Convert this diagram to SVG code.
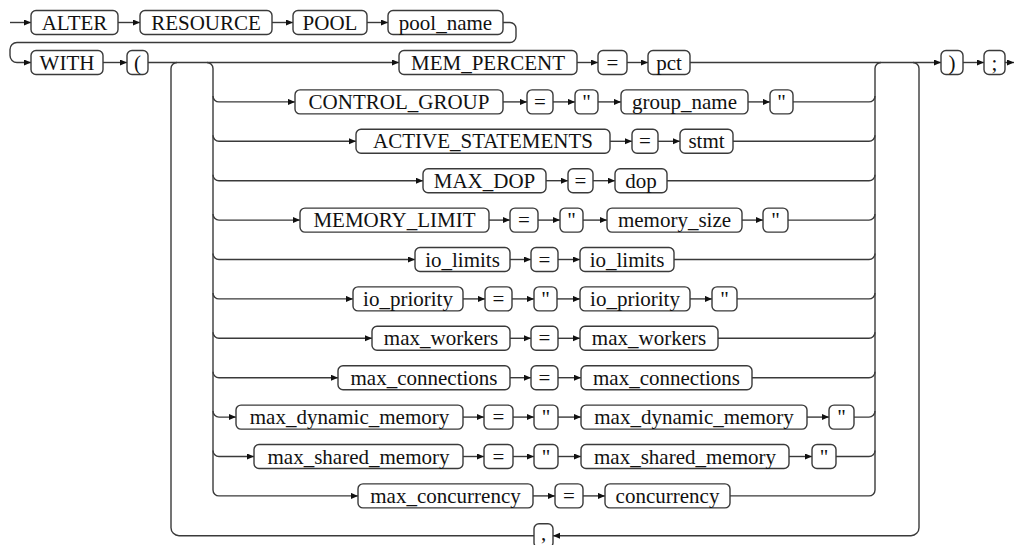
<svg xmlns="http://www.w3.org/2000/svg" width="1014" height="545" viewBox="0 0 1014 545">
<defs>
<marker id="ar" markerUnits="userSpaceOnUse" markerWidth="8" markerHeight="8" refX="7" refY="3" orient="auto"><path d="M0,0 L7,3 L0,6 z" fill="#111"/></marker>
</defs>
<rect width="1014" height="545" fill="#fff"/>
<g id="connectors" fill="none" stroke="#3a3a3a" stroke-width="1.4">
<path marker-end="url(#ar)" d="M10,22.5 L31,22.5"/>
<path marker-end="url(#ar)" d="M118,22.5 L140,22.5"/>
<path marker-end="url(#ar)" d="M272,22.5 L293,22.5"/>
<path marker-end="url(#ar)" d="M367,22.5 L388,22.5"/>
<path marker-end="url(#ar)" d="M503,22.5 L510,22.5 A6,6 0 0 1 516,28.5 L516,36.5 A6,6 0 0 1 510,42.5 L17,42.5 A7,7 0 0 0 10,49.5 L10,55.5 A7,7 0 0 0 17,62.5 L31,62.5"/>
<path marker-end="url(#ar)" d="M103,62.5 L127,62.5"/>
<path marker-end="url(#ar)" d="M148,62.5 L399,62.5"/>
<path marker-end="url(#ar)" d="M577,62.5 L598,62.5"/>
<path marker-end="url(#ar)" d="M627,62.5 L648,62.5"/>
<path marker-end="url(#ar)" d="M690,62.5 L941,62.5"/>
<path marker-end="url(#ar)" d="M963,62.5 L984,62.5"/>
<path marker-end="url(#ar)" d="M1005,62.5 L1014,62.5"/>
<path d="M207,62.5 A6,6 0 0 1 213,68.5 L213,489.9"/>
<path d="M875,489.9 L875,68.5 A6,6 0 0 1 881,62.5"/>
<path marker-end="url(#ar)" d="M913,62.5 A6,6 0 0 1 919,68.5 L919,527.7 A8,8 0 0 1 911,535.7 L553,535.7"/>
<path d="M534,535.7 L179,535.7 A8,8 0 0 1 171,527.7 L171,68.5 A6,6 0 0 1 177,62.5"/>
<path marker-end="url(#ar)" d="M213,95.9 A6,6 0 0 0 219,101.9 L295,101.9"/>
<path marker-end="url(#ar)" d="M503,101.9 L527,101.9"/>
<path marker-end="url(#ar)" d="M553,101.9 L575,101.9"/>
<path marker-end="url(#ar)" d="M598,101.9 L621,101.9"/>
<path marker-end="url(#ar)" d="M748,101.9 L770,101.9"/>
<path d="M793,101.9 L869,101.9 A6,6 0 0 0 875,95.9"/>
<path marker-end="url(#ar)" d="M213,135.3 A6,6 0 0 0 219,141.3 L356,141.3"/>
<path marker-end="url(#ar)" d="M610,141.3 L632,141.3"/>
<path marker-end="url(#ar)" d="M658,141.3 L680,141.3"/>
<path d="M733,141.3 L869,141.3 A6,6 0 0 0 875,135.3"/>
<path marker-end="url(#ar)" d="M213,174.7 A6,6 0 0 0 219,180.7 L423,180.7"/>
<path marker-end="url(#ar)" d="M546,180.7 L568,180.7"/>
<path marker-end="url(#ar)" d="M593,180.7 L615,180.7"/>
<path d="M667,180.7 L869,180.7 A6,6 0 0 0 875,174.7"/>
<path marker-end="url(#ar)" d="M213,214.1 A6,6 0 0 0 219,220.1 L300,220.1"/>
<path marker-end="url(#ar)" d="M489,220.1 L510,220.1"/>
<path marker-end="url(#ar)" d="M538,220.1 L560,220.1"/>
<path marker-end="url(#ar)" d="M583,220.1 L607,220.1"/>
<path marker-end="url(#ar)" d="M742,220.1 L763,220.1"/>
<path d="M788,220.1 L869,220.1 A6,6 0 0 0 875,214.1"/>
<path marker-end="url(#ar)" d="M213,253.5 A6,6 0 0 0 219,259.5 L415,259.5"/>
<path marker-end="url(#ar)" d="M510,259.5 L531,259.5"/>
<path marker-end="url(#ar)" d="M558,259.5 L580,259.5"/>
<path d="M674,259.5 L869,259.5 A6,6 0 0 0 875,253.5"/>
<path marker-end="url(#ar)" d="M213,292.9 A6,6 0 0 0 219,298.9 L353,298.9"/>
<path marker-end="url(#ar)" d="M463,298.9 L485,298.9"/>
<path marker-end="url(#ar)" d="M512,298.9 L534,298.9"/>
<path marker-end="url(#ar)" d="M557,298.9 L580,298.9"/>
<path marker-end="url(#ar)" d="M690,298.9 L712,298.9"/>
<path d="M737,298.9 L869,298.9 A6,6 0 0 0 875,292.9"/>
<path marker-end="url(#ar)" d="M213,332.3 A6,6 0 0 0 219,338.3 L372,338.3"/>
<path marker-end="url(#ar)" d="M510,338.3 L531,338.3"/>
<path marker-end="url(#ar)" d="M558,338.3 L580,338.3"/>
<path d="M718,338.3 L869,338.3 A6,6 0 0 0 875,332.3"/>
<path marker-end="url(#ar)" d="M213,371.7 A6,6 0 0 0 219,377.7 L338,377.7"/>
<path marker-end="url(#ar)" d="M510,377.7 L531,377.7"/>
<path marker-end="url(#ar)" d="M558,377.7 L581,377.7"/>
<path d="M752,377.7 L869,377.7 A6,6 0 0 0 875,371.7"/>
<path marker-end="url(#ar)" d="M213,411.1 A6,6 0 0 0 219,417.1 L236,417.1"/>
<path marker-end="url(#ar)" d="M463,417.1 L484,417.1"/>
<path marker-end="url(#ar)" d="M513,417.1 L534,417.1"/>
<path marker-end="url(#ar)" d="M558,417.1 L581,417.1"/>
<path marker-end="url(#ar)" d="M807,417.1 L829,417.1"/>
<path d="M854,417.1 L869,417.1 A6,6 0 0 0 875,411.1"/>
<path marker-end="url(#ar)" d="M213,450.5 A6,6 0 0 0 219,456.5 L254,456.5"/>
<path marker-end="url(#ar)" d="M463,456.5 L484,456.5"/>
<path marker-end="url(#ar)" d="M513,456.5 L534,456.5"/>
<path marker-end="url(#ar)" d="M558,456.5 L581,456.5"/>
<path marker-end="url(#ar)" d="M789,456.5 L812,456.5"/>
<path d="M836,456.5 L869,456.5 A6,6 0 0 0 875,450.5"/>
<path marker-end="url(#ar)" d="M213,489.9 A6,6 0 0 0 219,495.9 L358,495.9"/>
<path marker-end="url(#ar)" d="M533,495.9 L555,495.9"/>
<path marker-end="url(#ar)" d="M583,495.9 L605,495.9"/>
<path d="M730,495.9 L869,495.9 A6,6 0 0 0 875,489.9"/>
</g>
<g id="nodes" fill="#fff" stroke="#3a3a3a" stroke-width="1.4">
<g id="n-alter"><rect x="31" y="10.5" width="87" height="24" rx="5"/><text font-family="Liberation Serif" font-size="21" text-anchor="middle" fill="#111" stroke="none" x="74.5" y="29.5">ALTER</text></g>
<g id="n-resource"><rect x="140" y="10.5" width="132" height="24" rx="5"/><text font-family="Liberation Serif" font-size="21" text-anchor="middle" fill="#111" stroke="none" x="206" y="29.5">RESOURCE</text></g>
<g id="n-pool"><rect x="293" y="10.5" width="74" height="24" rx="5"/><text font-family="Liberation Serif" font-size="21" text-anchor="middle" fill="#111" stroke="none" x="330" y="29.5">POOL</text></g>
<g id="n-pool_name"><rect x="388" y="10.5" width="115" height="24" rx="5"/><text font-family="Liberation Serif" font-size="21" text-anchor="middle" fill="#111" stroke="none" x="445.5" y="29.5">pool_name</text></g>
<g id="n-with"><rect x="31" y="50.5" width="72" height="24" rx="5"/><text font-family="Liberation Serif" font-size="21" text-anchor="middle" fill="#111" stroke="none" x="67" y="69.5">WITH</text></g>
<g id="n-lparen"><rect x="127" y="50.5" width="21" height="24" rx="5"/><text font-family="Liberation Serif" font-size="21" text-anchor="middle" fill="#111" stroke="none" x="137.5" y="69.5">(</text></g>
<g id="n-mem_percent"><rect x="399" y="50.5" width="178" height="24" rx="5"/><text font-family="Liberation Serif" font-size="21" text-anchor="middle" fill="#111" stroke="none" x="488" y="69.5">MEM_PERCENT</text></g>
<g id="n-eq0"><rect x="598" y="50.5" width="29" height="24" rx="5"/><text font-family="Liberation Serif" font-size="21" text-anchor="middle" fill="#111" stroke="none" x="612.5" y="69.5">=</text></g>
<g id="n-pct"><rect x="648" y="50.5" width="42" height="24" rx="5"/><text font-family="Liberation Serif" font-size="21" text-anchor="middle" fill="#111" stroke="none" x="669" y="69.5">pct</text></g>
<g id="n-rparen"><rect x="941" y="50.5" width="22" height="24" rx="5"/><text font-family="Liberation Serif" font-size="21" text-anchor="middle" fill="#111" stroke="none" x="952" y="69.5">)</text></g>
<g id="n-semi"><rect x="984" y="50.5" width="21" height="24" rx="5"/><text font-family="Liberation Serif" font-size="21" text-anchor="middle" fill="#111" stroke="none" x="994.5" y="69.5">;</text></g>
<g id="n-control_group"><rect x="295" y="89.9" width="208" height="24" rx="5"/><text font-family="Liberation Serif" font-size="21" text-anchor="middle" fill="#111" stroke="none" x="399" y="108.9">CONTROL_GROUP</text></g>
<g id="n-eq1"><rect x="527" y="89.9" width="26" height="24" rx="5"/><text font-family="Liberation Serif" font-size="21" text-anchor="middle" fill="#111" stroke="none" x="540" y="108.9">=</text></g>
<g id="n-q1a"><rect x="575" y="89.9" width="23" height="24" rx="5"/><text font-family="Liberation Serif" font-size="21" text-anchor="middle" fill="#111" stroke="none" x="586.5" y="108.9">"</text></g>
<g id="n-group_name"><rect x="621" y="89.9" width="127" height="24" rx="5"/><text font-family="Liberation Serif" font-size="21" text-anchor="middle" fill="#111" stroke="none" x="684.5" y="108.9">group_name</text></g>
<g id="n-q1b"><rect x="770" y="89.9" width="23" height="24" rx="5"/><text font-family="Liberation Serif" font-size="21" text-anchor="middle" fill="#111" stroke="none" x="781.5" y="108.9">"</text></g>
<g id="n-active_statements"><rect x="356" y="129.3" width="254" height="24" rx="5"/><text font-family="Liberation Serif" font-size="21" text-anchor="middle" fill="#111" stroke="none" x="483" y="148.3">ACTIVE_STATEMENTS</text></g>
<g id="n-eq2"><rect x="632" y="129.3" width="26" height="24" rx="5"/><text font-family="Liberation Serif" font-size="21" text-anchor="middle" fill="#111" stroke="none" x="645" y="148.3">=</text></g>
<g id="n-stmt"><rect x="680" y="129.3" width="53" height="24" rx="5"/><text font-family="Liberation Serif" font-size="21" text-anchor="middle" fill="#111" stroke="none" x="706.5" y="148.3">stmt</text></g>
<g id="n-max_dop"><rect x="423" y="168.7" width="123" height="24" rx="5"/><text font-family="Liberation Serif" font-size="21" text-anchor="middle" fill="#111" stroke="none" x="484.5" y="187.7">MAX_DOP</text></g>
<g id="n-eq3"><rect x="568" y="168.7" width="25" height="24" rx="5"/><text font-family="Liberation Serif" font-size="21" text-anchor="middle" fill="#111" stroke="none" x="580.5" y="187.7">=</text></g>
<g id="n-dop"><rect x="615" y="168.7" width="52" height="24" rx="5"/><text font-family="Liberation Serif" font-size="21" text-anchor="middle" fill="#111" stroke="none" x="641" y="187.7">dop</text></g>
<g id="n-memory_limit"><rect x="300" y="208.1" width="189" height="24" rx="5"/><text font-family="Liberation Serif" font-size="21" text-anchor="middle" fill="#111" stroke="none" x="394.5" y="227.1">MEMORY_LIMIT</text></g>
<g id="n-eq4"><rect x="510" y="208.1" width="28" height="24" rx="5"/><text font-family="Liberation Serif" font-size="21" text-anchor="middle" fill="#111" stroke="none" x="524" y="227.1">=</text></g>
<g id="n-q4a"><rect x="560" y="208.1" width="23" height="24" rx="5"/><text font-family="Liberation Serif" font-size="21" text-anchor="middle" fill="#111" stroke="none" x="571.5" y="227.1">"</text></g>
<g id="n-memory_size"><rect x="607" y="208.1" width="135" height="24" rx="5"/><text font-family="Liberation Serif" font-size="21" text-anchor="middle" fill="#111" stroke="none" x="674.5" y="227.1">memory_size</text></g>
<g id="n-q4b"><rect x="763" y="208.1" width="25" height="24" rx="5"/><text font-family="Liberation Serif" font-size="21" text-anchor="middle" fill="#111" stroke="none" x="775.5" y="227.1">"</text></g>
<g id="n-io_limits_k"><rect x="415" y="247.5" width="95" height="24" rx="5"/><text font-family="Liberation Serif" font-size="21" text-anchor="middle" fill="#111" stroke="none" x="462.5" y="266.5">io_limits</text></g>
<g id="n-eq5"><rect x="531" y="247.5" width="27" height="24" rx="5"/><text font-family="Liberation Serif" font-size="21" text-anchor="middle" fill="#111" stroke="none" x="544.5" y="266.5">=</text></g>
<g id="n-io_limits_v"><rect x="580" y="247.5" width="94" height="24" rx="5"/><text font-family="Liberation Serif" font-size="21" text-anchor="middle" fill="#111" stroke="none" x="627" y="266.5">io_limits</text></g>
<g id="n-io_priority_k"><rect x="353" y="286.9" width="110" height="24" rx="5"/><text font-family="Liberation Serif" font-size="21" text-anchor="middle" fill="#111" stroke="none" x="408" y="305.9">io_priority</text></g>
<g id="n-eq6"><rect x="485" y="286.9" width="27" height="24" rx="5"/><text font-family="Liberation Serif" font-size="21" text-anchor="middle" fill="#111" stroke="none" x="498.5" y="305.9">=</text></g>
<g id="n-q6a"><rect x="534" y="286.9" width="23" height="24" rx="5"/><text font-family="Liberation Serif" font-size="21" text-anchor="middle" fill="#111" stroke="none" x="545.5" y="305.9">"</text></g>
<g id="n-io_priority_v"><rect x="580" y="286.9" width="110" height="24" rx="5"/><text font-family="Liberation Serif" font-size="21" text-anchor="middle" fill="#111" stroke="none" x="635" y="305.9">io_priority</text></g>
<g id="n-q6b"><rect x="712" y="286.9" width="25" height="24" rx="5"/><text font-family="Liberation Serif" font-size="21" text-anchor="middle" fill="#111" stroke="none" x="724.5" y="305.9">"</text></g>
<g id="n-max_workers_k"><rect x="372" y="326.3" width="138" height="24" rx="5"/><text font-family="Liberation Serif" font-size="21" text-anchor="middle" fill="#111" stroke="none" x="441" y="345.3">max_workers</text></g>
<g id="n-eq7"><rect x="531" y="326.3" width="27" height="24" rx="5"/><text font-family="Liberation Serif" font-size="21" text-anchor="middle" fill="#111" stroke="none" x="544.5" y="345.3">=</text></g>
<g id="n-max_workers_v"><rect x="580" y="326.3" width="138" height="24" rx="5"/><text font-family="Liberation Serif" font-size="21" text-anchor="middle" fill="#111" stroke="none" x="649" y="345.3">max_workers</text></g>
<g id="n-max_connections_k"><rect x="338" y="365.7" width="172" height="24" rx="5"/><text font-family="Liberation Serif" font-size="21" text-anchor="middle" fill="#111" stroke="none" x="424" y="384.7">max_connections</text></g>
<g id="n-eq8"><rect x="531" y="365.7" width="27" height="24" rx="5"/><text font-family="Liberation Serif" font-size="21" text-anchor="middle" fill="#111" stroke="none" x="544.5" y="384.7">=</text></g>
<g id="n-max_connections_v"><rect x="581" y="365.7" width="171" height="24" rx="5"/><text font-family="Liberation Serif" font-size="21" text-anchor="middle" fill="#111" stroke="none" x="666.5" y="384.7">max_connections</text></g>
<g id="n-max_dynamic_memory_k"><rect x="236" y="405.1" width="227" height="24" rx="5"/><text font-family="Liberation Serif" font-size="21" text-anchor="middle" fill="#111" stroke="none" x="349.5" y="424.1">max_dynamic_memory</text></g>
<g id="n-eq9"><rect x="484" y="405.1" width="29" height="24" rx="5"/><text font-family="Liberation Serif" font-size="21" text-anchor="middle" fill="#111" stroke="none" x="498.5" y="424.1">=</text></g>
<g id="n-q9a"><rect x="534" y="405.1" width="24" height="24" rx="5"/><text font-family="Liberation Serif" font-size="21" text-anchor="middle" fill="#111" stroke="none" x="546" y="424.1">"</text></g>
<g id="n-max_dynamic_memory_v"><rect x="581" y="405.1" width="226" height="24" rx="5"/><text font-family="Liberation Serif" font-size="21" text-anchor="middle" fill="#111" stroke="none" x="694" y="424.1">max_dynamic_memory</text></g>
<g id="n-q9b"><rect x="829" y="405.1" width="25" height="24" rx="5"/><text font-family="Liberation Serif" font-size="21" text-anchor="middle" fill="#111" stroke="none" x="841.5" y="424.1">"</text></g>
<g id="n-max_shared_memory_k"><rect x="254" y="444.5" width="209" height="24" rx="5"/><text font-family="Liberation Serif" font-size="21" text-anchor="middle" fill="#111" stroke="none" x="358.5" y="463.5">max_shared_memory</text></g>
<g id="n-eq10"><rect x="484" y="444.5" width="29" height="24" rx="5"/><text font-family="Liberation Serif" font-size="21" text-anchor="middle" fill="#111" stroke="none" x="498.5" y="463.5">=</text></g>
<g id="n-q10a"><rect x="534" y="444.5" width="24" height="24" rx="5"/><text font-family="Liberation Serif" font-size="21" text-anchor="middle" fill="#111" stroke="none" x="546" y="463.5">"</text></g>
<g id="n-max_shared_memory_v"><rect x="581" y="444.5" width="208" height="24" rx="5"/><text font-family="Liberation Serif" font-size="21" text-anchor="middle" fill="#111" stroke="none" x="685" y="463.5">max_shared_memory</text></g>
<g id="n-q10b"><rect x="812" y="444.5" width="24" height="24" rx="5"/><text font-family="Liberation Serif" font-size="21" text-anchor="middle" fill="#111" stroke="none" x="824" y="463.5">"</text></g>
<g id="n-max_concurrency"><rect x="358" y="483.9" width="175" height="24" rx="5"/><text font-family="Liberation Serif" font-size="21" text-anchor="middle" fill="#111" stroke="none" x="445.5" y="502.9">max_concurrency</text></g>
<g id="n-eq11"><rect x="555" y="483.9" width="28" height="24" rx="5"/><text font-family="Liberation Serif" font-size="21" text-anchor="middle" fill="#111" stroke="none" x="569" y="502.9">=</text></g>
<g id="n-concurrency"><rect x="605" y="483.9" width="125" height="24" rx="5"/><text font-family="Liberation Serif" font-size="21" text-anchor="middle" fill="#111" stroke="none" x="667.5" y="502.9">concurrency</text></g>
<g id="n-comma"><rect x="534" y="523.7" width="19" height="24" rx="5"/><text font-family="Liberation Serif" font-size="21" text-anchor="middle" fill="#111" stroke="none" x="543.5" y="539.5">,</text></g>
</g>
</svg>
